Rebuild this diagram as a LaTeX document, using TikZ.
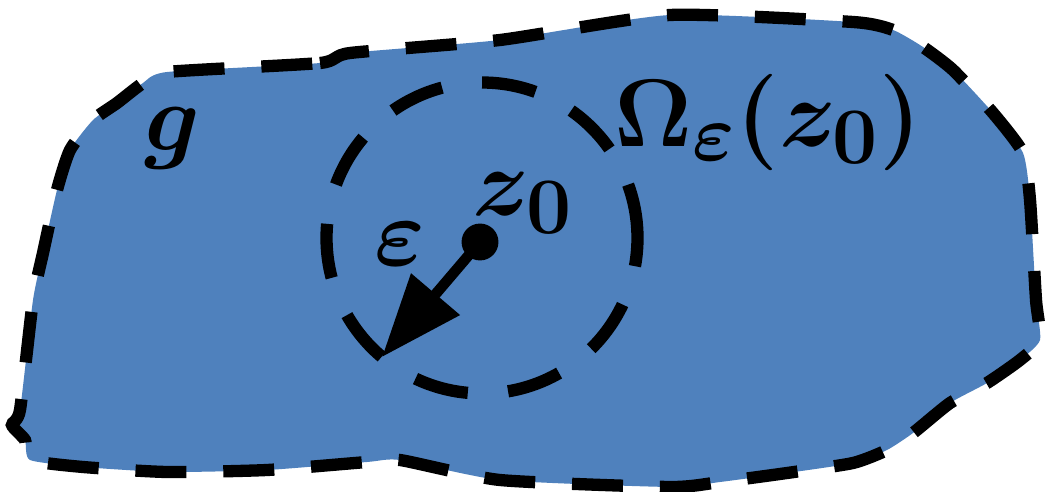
\documentclass[tikz,border=0pt]{standalone}
\usepackage{xcolor}
\usepackage{tikz}
\usetikzlibrary{arrows.meta}
\definecolor{regionblue}{RGB}{79,129,189}
\newcommand{\bigmath}[1]{\scalebox{2.2}{$#1$}}

\begin{document}
\begin{tikzpicture}[
    x=0.02cm, y=-0.02cm,
    region/.style={fill=regionblue, draw=black, line width=7pt, dash pattern=on 29pt off 21pt},
    ring/.style={circle, draw, line width=7pt, dash pattern=on 31pt off 23pt, minimum size=177pt, inner sep=0pt},
    dot/.style={circle, fill=black, minimum size=21pt, inner sep=0pt},
    lbl/.style={font=\Huge\boldmath, inner sep=0pt},
    arrow/.style={-{Triangle[length=47pt, width=35pt]}, line width=6pt}
]
\useasboundingbox (0,0) rectangle (1053,492);
% the region
\draw[region] plot[smooth cycle, tension=0.35] coordinates {
    (167,72) (320,63) (350,53) (500,40) (670,15) (853,22) (893,30) (923,47)
    (953,70) (993,113) (1023,153) (1030,200) (1036,300) (1040,340) (1020,360)
    (987,383) (950,403) (913,433) (887,450) (853,463) (787,473) (720,482)
    (670,487) (500,480) (400,460) (367,462) (267,470) (167,472) (83,467)
    (30,460) (25,440) (12,425) (20,410) (33,300) (43,253) (57,190) (70,150)
    (93,120) (117,103) (143,83)};
% the ball and its centre
\node[ring] (ball) at (482,238) {};
\node[dot] (z0) at (480,242) {};
\coordinate (tip) at (382,357);
\draw[arrow] (z0.center) -- (tip);
% labels
\node[lbl] (glabel) at (172,138) {\bigmath{g}};
\node[lbl] (zlabel) at (523,203) {\bigmath{z_0}};
\node[lbl] (epslabel) at (400,244) {\bigmath{\varepsilon}};
\node[lbl] (omegalabel) at (768,122) {\bigmath{\Omega_{\varepsilon}(z_0)}};
\end{tikzpicture}
\end{document}
